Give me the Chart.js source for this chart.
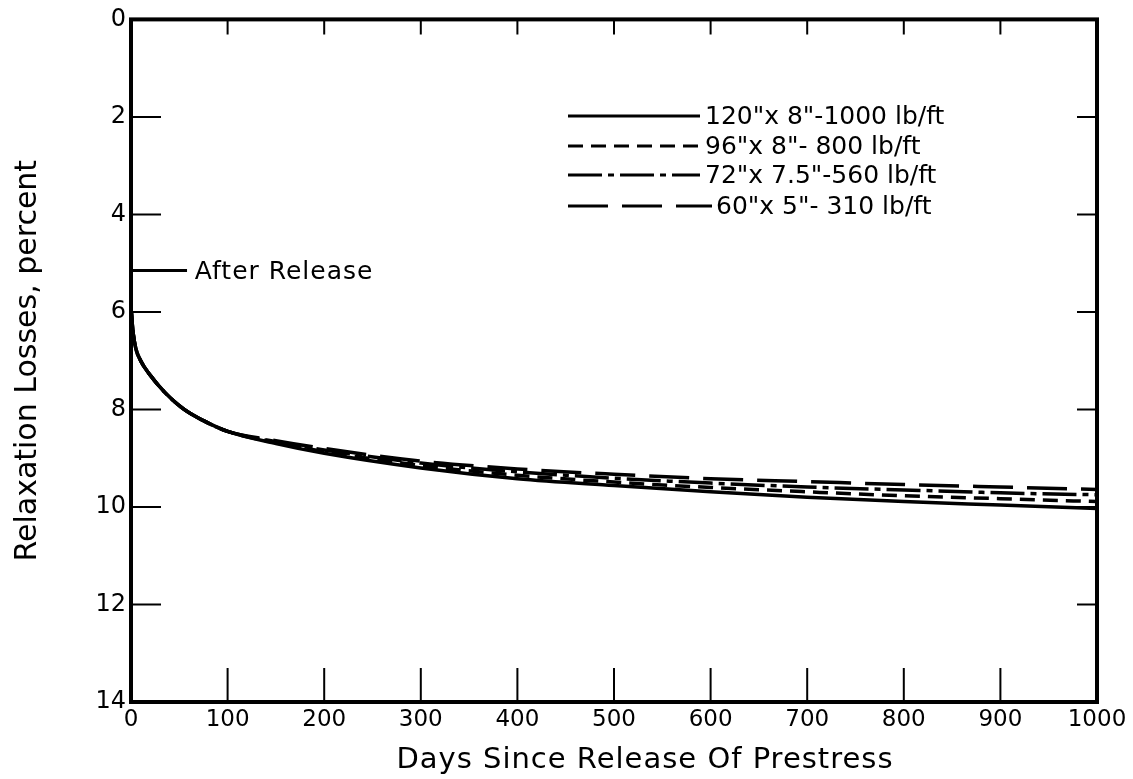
<!DOCTYPE html>
<html>
<head>
<meta charset="utf-8">
<script src="https://cdn.jsdelivr.net/npm/chart.js@4/dist/chart.umd.min.js"></script>
<style>
  html, body { margin: 0; padding: 0; background: #fff; }
  #wrap { width: 1133px; height: 779px; }
</style>
</head>
<body>
<div id="wrap"><canvas id="chart"></canvas></div>
<script>
// Relaxation losses vs days since release of prestress
const days = [0, 2, 5, 10, 20, 35, 55, 75, 100, 150, 200, 300, 400, 500, 600, 700, 800, 900, 1000];

const perda120 = [5.9, 6.4, 6.75, 7.0, 7.3, 7.65, 8.0, 8.23, 8.45, 8.70, 8.90, 9.20, 9.42, 9.56, 9.69, 9.80, 9.89, 9.96, 10.03];
const perda96  = [5.9, 6.4, 6.75, 7.0, 7.3, 7.65, 8.0, 8.23, 8.45, 8.68, 8.86, 9.15, 9.35, 9.49, 9.60, 9.69, 9.77, 9.83, 9.89];
const perda72  = [5.9, 6.4, 6.75, 7.0, 7.3, 7.65, 8.0, 8.23, 8.45, 8.66, 8.83, 9.10, 9.28, 9.41, 9.51, 9.59, 9.65, 9.71, 9.75];
const perda60  = [5.9, 6.4, 6.75, 7.0, 7.3, 7.65, 8.0, 8.23, 8.45, 8.64, 8.80, 9.06, 9.22, 9.33, 9.42, 9.48, 9.54, 9.59, 9.64];

const legendas = ['120"x 8"-1000 lb/ft', '96"x 8"- 800 lb/ft', '72"x 7.5"-560 lb/ft', '60"x 5"- 310 lb/ft'];
const tracos   = [[], [15, 8], [34, 6, 6, 6], [40, 14]];

const aposLiberacaoX = [0, 58];
const aposLiberacaoY = [5.15, 5.15];

const ticksX = [0, 100, 200, 300, 400, 500, 600, 700, 800, 900, 1000];
const ticksY = [0, 2, 4, 6, 8, 10, 12, 14];

const FONTE = '"DejaVu Sans", sans-serif';

function pontos(xs, ys) {
  return xs.map((x, i) => ({ x, y: ys[i] }));
}

const series = [perda120, perda96, perda72, perda60];
const datasets = series.map((vals, i) => ({
  label: legendas[i],
  data: pontos(days, vals),
  borderColor: '#000',
  borderWidth: 3.5,
  borderDash: tracos[i],
  pointRadius: 0,
  cubicInterpolationMode: 'monotone',
  order: 4 - i,
}));
datasets.push({
  label: 'After Release',
  data: pontos(aposLiberacaoX, aposLiberacaoY),
  borderColor: '#000',
  borderWidth: 3,
  pointRadius: 0,
});

// moldura, marcas internas, legenda e anotação
const desenhoExtra = {
  id: 'desenhoExtra',
  afterDatasetsDraw(chart) {
    const { ctx, chartArea: a, scales: { x, y } } = chart;
    ctx.save();
    ctx.strokeStyle = '#000';
    ctx.lineCap = 'butt';

    // marcas dos eixos
    ctx.lineWidth = 2;
    ctx.beginPath();
    ticksX.slice(1, -1).forEach((v) => {
      const px = x.getPixelForValue(v);
      ctx.moveTo(px, a.bottom); ctx.lineTo(px, a.bottom - 34);
      ctx.moveTo(px, a.top); ctx.lineTo(px, a.top + 15);
    });
    ticksY.slice(1, -1).forEach((v) => {
      const py = y.getPixelForValue(v);
      ctx.moveTo(a.left, py); ctx.lineTo(a.left + 30, py);
      ctx.moveTo(a.right, py); ctx.lineTo(a.right - 20, py);
    });
    ctx.stroke();

    // moldura
    ctx.lineWidth = 4;
    ctx.strokeRect(a.left, a.top, a.right - a.left, a.bottom - a.top);

    // legenda
    ctx.fillStyle = '#000';
    ctx.font = '25px ' + FONTE;
    ctx.textBaseline = 'middle';
    const linhasY = [116, 146, 175, 206];
    legendas.forEach((txt, i) => {
      ctx.lineWidth = 3;
      ctx.setLineDash(tracos[i]);
      ctx.beginPath();
      ctx.moveTo(568, linhasY[i]);
      ctx.lineTo(i === 3 ? 712 : 700, linhasY[i]);
      ctx.stroke();
      ctx.setLineDash([]);
      ctx.fillText(txt, i === 3 ? 716 : 705, linhasY[i] + 1);
    });

    // After Release
    ctx.font = '25px ' + FONTE;
    ctx.letterSpacing = '1px';
    ctx.fillText('After Release', x.getPixelForValue(66), y.getPixelForValue(5.15) + 2);

    // título do eixo x, um pouco à direita do centro como no original
    ctx.letterSpacing = '1px';
    ctx.font = '29px ' + FONTE;
    ctx.textAlign = 'center';
    ctx.fillText('Days Since Release Of Prestress', 645, 760);
    ctx.restore();
  },
};

new Chart(document.getElementById('chart'), {
  type: 'line',
  data: { datasets },
  options: {
    responsive: true,
    maintainAspectRatio: false,
    animation: false,
    layout: { padding: { top: 16, right: 36, left: 0, bottom: 0 } },
    plugins: {
      legend: { display: false },
      tooltip: { enabled: false },
    },
    scales: {
      x: {
        type: 'linear',
        min: 0,
        max: 1000,
        afterBuildTicks: (s) => { s.ticks = ticksX.map((v) => ({ value: v })); },
        afterFit: (s) => { s.height = 77; },
        grid: { display: false, drawTicks: false },
        border: { display: false },
        ticks: {
          color: '#000', padding: 4, maxRotation: 0,
          font: { family: FONTE, size: 23 },
          callback: (v) => String(v),
        },
        title: { display: false },
      },
      y: {
        type: 'linear',
        reverse: true,
        min: 0,
        max: 14,
        afterBuildTicks: (s) => { s.ticks = ticksY.map((v) => ({ value: v })); },
        afterFit: (s) => { s.width = 131; },
        grid: { display: false, drawTicks: false },
        border: { display: false },
        ticks: { color: '#000', padding: 5, font: { family: FONTE, size: 24 } },
        title: {
          display: true,
          text: 'Relaxation Losses, percent',
          color: '#000',
          padding: { top: 10, bottom: 0 },
          font: { family: FONTE, size: 30 },
        },
      },
    },
  },
  plugins: [desenhoExtra],
});
</script>
</body>
</html>
